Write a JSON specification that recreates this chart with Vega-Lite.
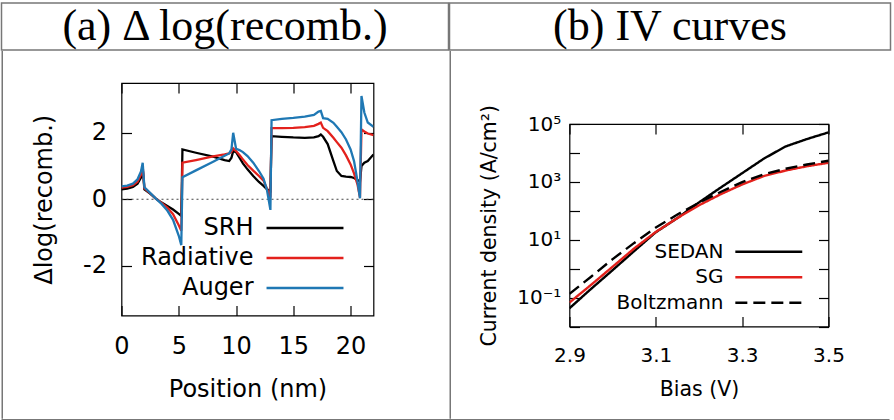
{
  "$schema": "https://vega.github.io/schema/vega-lite/v6.json",
  "padding": {"left": 0.5, "top": 2, "right": 0, "bottom": 0},
  "background": "white",
  "config": {
    "view": {"stroke": null},
    "font": "DejaVu Sans",
    "axis": {"grid": false, "domain": false, "tickColor": "black", "labelColor": "black", "titleColor": "black", "titleFontWeight": "normal", "labelFlush": false, "labelOverlap": false, "tickWidth": 1.2, "labelFont": "DejaVu Sans", "titleFont": "DejaVu Sans"}
  },
  "datasets": {
    "recomb": [
      {"pos": 0, "SRH": 0.30, "Radiative": 0.35, "Auger": 0.39},
      {"pos": 0.5, "SRH": 0.32, "Radiative": 0.37, "Auger": 0.41},
      {"pos": 1.0, "SRH": 0.37, "Radiative": 0.42, "Auger": 0.47},
      {"pos": 1.4, "SRH": 0.47, "Radiative": 0.53, "Auger": 0.60},
      {"pos": 1.7, "SRH": 0.65, "Radiative": 0.74, "Auger": 0.84},
      {"pos": 1.85, "SRH": 0.93, "Radiative": 1.00, "Auger": 1.10},
      {"pos": 2.0, "SRH": 0.30, "Radiative": 0.33, "Auger": 0.36},
      {"pos": 2.5, "SRH": 0.17, "Radiative": 0.18, "Auger": 0.19},
      {"pos": 3.0, "SRH": 0.02, "Radiative": 0.02, "Auger": 0.02},
      {"pos": 3.5, "SRH": -0.10, "Radiative": -0.11, "Auger": -0.14},
      {"pos": 4.0, "SRH": -0.20, "Radiative": -0.25, "Auger": -0.34},
      {"pos": 4.5, "SRH": -0.31, "Radiative": -0.45, "Auger": -0.62},
      {"pos": 5.0, "SRH": -0.44, "Radiative": -0.78, "Auger": -1.10},
      {"pos": 5.22, "SRH": -0.50, "Radiative": -0.95, "Auger": -1.38},
      {"pos": 5.32, "SRH": 1.50, "Radiative": 1.10, "Auger": 0.66},
      {"pos": 6.5, "SRH": 1.40, "Radiative": 1.18, "Auger": 0.87},
      {"pos": 8.0, "SRH": 1.28, "Radiative": 1.29, "Auger": 1.13},
      {"pos": 9.0, "SRH": 1.18, "Radiative": 1.35, "Auger": 1.31},
      {"pos": 9.4, "SRH": 1.15, "Radiative": 1.38, "Auger": 1.38},
      {"pos": 9.6, "SRH": 1.25, "Radiative": 1.43, "Auger": 1.50},
      {"pos": 9.75, "SRH": 1.45, "Radiative": 1.53, "Auger": 2.00},
      {"pos": 10.0, "SRH": 1.42, "Radiative": 1.45, "Auger": 1.52},
      {"pos": 10.3, "SRH": 1.25, "Radiative": 1.33, "Auger": 1.48},
      {"pos": 10.6, "SRH": 1.08, "Radiative": 1.20, "Auger": 1.42},
      {"pos": 11.0, "SRH": 0.90, "Radiative": 1.03, "Auger": 1.30},
      {"pos": 11.5, "SRH": 0.70, "Radiative": 0.86, "Auger": 1.10},
      {"pos": 12.0, "SRH": 0.52, "Radiative": 0.70, "Auger": 0.85},
      {"pos": 12.4, "SRH": 0.40, "Radiative": 0.56, "Auger": 0.62},
      {"pos": 12.7, "SRH": 0.30, "Radiative": 0.32, "Auger": 0.28},
      {"pos": 13.0, "SRH": 0.25, "Radiative": 0.05, "Auger": -0.32},
      {"pos": 13.1, "SRH": 1.90, "Radiative": 2.14, "Auger": 2.38},
      {"pos": 14.0, "SRH": 1.88, "Radiative": 2.14, "Auger": 2.42},
      {"pos": 15.0, "SRH": 1.86, "Radiative": 2.15, "Auger": 2.45},
      {"pos": 16.0, "SRH": 1.85, "Radiative": 2.17, "Auger": 2.49},
      {"pos": 16.8, "SRH": 1.86, "Radiative": 2.21, "Auger": 2.54},
      {"pos": 17.2, "SRH": 1.90, "Radiative": 2.27, "Auger": 2.64},
      {"pos": 17.4, "SRH": 1.95, "Radiative": 2.31, "Auger": 2.66},
      {"pos": 17.6, "SRH": 1.88, "Radiative": 2.15, "Auger": 2.44},
      {"pos": 18.0, "SRH": 1.66, "Radiative": 2.05, "Auger": 2.42},
      {"pos": 18.5, "SRH": 1.15, "Radiative": 1.85, "Auger": 2.30},
      {"pos": 18.8, "SRH": 0.85, "Radiative": 1.72, "Auger": 2.18},
      {"pos": 19.2, "SRH": 0.70, "Radiative": 1.55, "Auger": 2.02},
      {"pos": 19.6, "SRH": 0.68, "Radiative": 1.32, "Auger": 1.80},
      {"pos": 20.0, "SRH": 0.67, "Radiative": 1.05, "Auger": 1.50},
      {"pos": 20.3, "SRH": 0.64, "Radiative": 0.78, "Auger": 1.15},
      {"pos": 20.6, "SRH": 0.58, "Radiative": 0.45, "Auger": 0.55},
      {"pos": 20.82, "SRH": 0.54, "Radiative": 0.05, "Auger": 0.03},
      {"pos": 20.95, "SRH": 1.00, "Radiative": 2.10, "Auger": 3.11},
      {"pos": 21.2, "SRH": 1.10, "Radiative": 2.04, "Auger": 2.61},
      {"pos": 21.5, "SRH": 1.15, "Radiative": 1.98, "Auger": 2.31},
      {"pos": 22.0, "SRH": 1.35, "Radiative": 1.93, "Auger": 2.18}
    ],
    "iv": [
      {"V": 2.90, "SEDAN": 0.0427, "SG": 0.0676, "Boltzmann": 0.135},
      {"V": 2.95, "SEDAN": 0.200, "SG": 0.275, "Boltzmann": 0.525},
      {"V": 3.00, "SEDAN": 0.891, "SG": 1.17, "Boltzmann": 2.14},
      {"V": 3.05, "SEDAN": 4.07, "SG": 5.01, "Boltzmann": 7.76},
      {"V": 3.10, "SEDAN": 18.2, "SG": 18.6, "Boltzmann": 26.3},
      {"V": 3.15, "SEDAN": 56.2, "SG": 56.2, "Boltzmann": 74.1},
      {"V": 3.20, "SEDAN": 195, "SG": 155, "Boltzmann": 191},
      {"V": 3.25, "SEDAN": 631, "SG": 372, "Boltzmann": 447},
      {"V": 3.30, "SEDAN": 1995, "SG": 813, "Boltzmann": 977},
      {"V": 3.35, "SEDAN": 6310, "SG": 1585, "Boltzmann": 1820},
      {"V": 3.40, "SEDAN": 16600, "SG": 2455, "Boltzmann": 2818},
      {"V": 3.45, "SEDAN": 30200, "SG": 3467, "Boltzmann": 3981},
      {"V": 3.50, "SEDAN": 51300, "SG": 4571, "Boltzmann": 5370}
    ]
  },
  "spacing": 0,
  "resolve": {"scale": {"color": "independent", "strokeDash": "independent"}},
  "vconcat": [
    {
      "spacing": -1.5,
      "hconcat": [
        {
          "width": 447, "height": 47,
          "view": {"stroke": "#777", "strokeWidth": 1.5},
          "data": {"values": [{"t": "(a) Δ log(recomb.)"}]},
          "mark": {"type": "text", "font": "Liberation Serif", "fontSize": 44, "baseline": "middle", "align": "center", "color": "black"},
          "encoding": {"text": {"field": "t", "type": "nominal"}}
        },
        {
          "width": 441, "height": 47,
          "view": {"stroke": "#777", "strokeWidth": 1.5},
          "data": {"values": [{"t": "(b) IV curves"}]},
          "mark": {"type": "text", "font": "Liberation Serif", "fontSize": 44, "baseline": "middle", "align": "center", "color": "black"},
          "encoding": {"text": {"field": "t", "type": "nominal"}}
        }
      ]
    },
    {
      "spacing": 0,
      "resolve": {"scale": {"color": "independent", "strokeDash": "independent"}},
      "hconcat": [
        {"width": 1.5, "height": 367.75, "view": {"fill": "#777"}, "data": {"values": []}, "mark": "point", "encoding": {}},
        {"width": 27.25, "height": 1, "data": {"values": []}, "mark": "point", "encoding": {}},
        {
          "spacing": 0,
          "bounds": "flush",
          "vconcat": [
            {"width": 1, "height": 31.5, "data": {"values": []}, "mark": "point", "encoding": {}},
            {
              "width": 252, "height": 232.5,
              "view": {"stroke": "black", "strokeWidth": 1.2},
              "data": {"name": "recomb"},
              "layer": [
                {
                  "data": {"values": [{}]},
                  "mark": {"type": "rule", "strokeDash": [2, 3], "strokeWidth": 1, "color": "#444"},
                  "encoding": {"y": {"datum": 0, "type": "quantitative", "scale": {"domain": [-3.5, 3.5], "nice": false}, "axis": null}}
                },
                {
                  "transform": [{"fold": ["SRH", "Radiative", "Auger"], "as": ["series", "value"]}],
                  "mark": {"type": "line", "strokeWidth": 2.3, "clip": true},
                  "encoding": {
                    "x": {"field": "pos", "type": "quantitative", "scale": {"domain": [0, 22], "nice": false, "zero": false},
                      "axis": {"orient": "bottom", "values": [0, 5, 10, 15, 20], "tickSize": -10, "labelPadding": 29, "labelFontSize": 24, "title": "Position (nm)", "titleFontSize": 24, "titlePadding": 19}},
                    "y": {"field": "value", "type": "quantitative", "scale": {"domain": [-3.5, 3.5], "nice": false},
                      "axis": {"orient": "left", "values": [-2, 0, 2], "tickSize": -10, "labelPadding": 25, "labelFontSize": 24, "labelExpr": "replace(datum.label, '−', '-')", "title": "Δlog(recomb.)", "titleFontSize": 24, "titlePadding": 26}},
                    "color": {"field": "series", "type": "nominal",
                      "scale": {"domain": ["SRH", "Radiative", "Auger"], "range": ["#000000", "#e3211c", "#1f78b4"]},
                      "legend": {"title": null, "orient": "none", "legendX": 171.5, "legendY": 165, "symbolType": "M-4,0H4", "symbolSize": 370, "symbolStrokeWidth": 2.5, "symbolOffset": 0, "labelFontSize": 24, "labelAlign": "right", "labelOffset": -63.5, "rowPadding": 6, "padding": 0, "labelColor": "black", "labelLimit": 0}}
                  }
                },
                {
                  "transform": [{"fold": ["SRH", "Radiative", "Auger"], "as": ["series", "value"]}],
                  "mark": {"type": "line", "opacity": 0},
                  "encoding": {
                    "x": {"field": "pos", "type": "quantitative", "scale": {"domain": [0, 22], "nice": false, "zero": false},
                      "axis": {"orient": "top", "values": [0, 5, 10, 15, 20], "tickSize": -10, "labels": false, "title": null}},
                    "y": {"field": "value", "type": "quantitative", "scale": {"domain": [-3.5, 3.5], "nice": false},
                      "axis": {"orient": "right", "values": [-2, 0, 2], "tickSize": -10, "labels": false, "title": null}},
                    "detail": {"field": "series", "type": "nominal"}
                  }
                }
              ],
              "resolve": {"axis": {"x": "independent", "y": "independent"}}
            }
          ]
        },
        {"width": 73.75, "height": 1, "data": {"values": []}, "mark": "point", "encoding": {}},
        {"width": 1.5, "height": 367.75, "view": {"fill": "#777"}, "data": {"values": []}, "mark": "point", "encoding": {}},
        {"width": 26.95, "height": 1, "data": {"values": []}, "mark": "point", "encoding": {}},
        {
          "spacing": 0,
          "bounds": "flush",
          "vconcat": [
            {"width": 1, "height": 72.8, "data": {"values": []}, "mark": "point", "encoding": {}},
            {
              "width": 259, "height": 202.5,
              "view": {"stroke": "black", "strokeWidth": 1.2},
              "data": {"name": "iv"},
              "transform": [{"fold": ["SEDAN", "SG", "Boltzmann"], "as": ["model", "J"]}],
              "layer": [
                {
                  "mark": {"type": "line", "strokeWidth": 2.4, "clip": true},
                  "encoding": {
                    "x": {"field": "V", "type": "quantitative", "scale": {"domain": [2.9, 3.5], "nice": false, "zero": false},
                      "axis": {"orient": "bottom", "values": [2.9, 3.1, 3.3, 3.5], "format": ".1f", "tickSize": -10, "labelPadding": 29, "labelFontSize": 20, "title": "Bias (V)", "titleFontSize": 20.5, "titlePadding": 14}},
                    "y": {"field": "J", "type": "quantitative", "scale": {"type": "log", "domain": [0.01, 100000], "nice": false},
                      "axis": {"orient": "left", "values": [0.01, 0.1, 1, 10, 100, 1000, 10000, 100000], "tickSize": -10, "labelPadding": 18.7, "labelFontSize": 20,
                        "labelExpr": "datum.value == 100000 ? '10⁵' : datum.value == 1000 ? '10³' : datum.value == 10 ? '10¹' : datum.value == 0.1 ? '10⁻¹' : ''",
                        "title": "Current density (A/cm²)", "titleFontSize": 20.5, "titlePadding": 17}},
                    "color": {"field": "model", "type": "nominal",
                      "scale": {"domain": ["SEDAN", "SG", "Boltzmann"], "range": ["#000000", "#e3211c", "#000000"]},
                      "legend": {"title": null, "orient": "none", "legendX": 189.3, "legendY": 117.7, "symbolType": "M-4,0H4", "symbolSize": 280, "symbolStrokeWidth": 2.5, "symbolOffset": 0, "labelFontSize": 20, "labelAlign": "right", "labelOffset": -55.3, "rowPadding": 5.5, "padding": 0, "labelColor": "black", "labelLimit": 0}},
                    "strokeDash": {"field": "model", "type": "nominal",
                      "scale": {"domain": ["SEDAN", "SG", "Boltzmann"], "range": [[1, 0], [1, 0], [12, 6]]},
                      "legend": {"title": null, "orient": "none", "legendX": 189.3, "legendY": 117.7, "symbolType": "M-4,0H4", "symbolSize": 280, "symbolStrokeWidth": 2.5, "symbolOffset": 0, "labelFontSize": 20, "labelAlign": "right", "labelOffset": -55.3, "rowPadding": 5.5, "padding": 0, "labelColor": "black", "labelLimit": 0}}
                  }
                },
                {
                  "mark": {"type": "line", "opacity": 0},
                  "encoding": {
                    "x": {"field": "V", "type": "quantitative", "scale": {"domain": [2.9, 3.5], "nice": false, "zero": false},
                      "axis": {"orient": "top", "values": [2.9, 3.1, 3.3, 3.5], "tickSize": -10, "labels": false, "title": null}},
                    "y": {"field": "J", "type": "quantitative", "scale": {"type": "log", "domain": [0.01, 100000], "nice": false},
                      "axis": {"orient": "right", "values": [0.01, 0.1, 1, 10, 100, 1000, 10000, 100000], "tickSize": -10, "labels": false, "title": null}},
                    "detail": {"field": "model", "type": "nominal"}
                  }
                }
              ],
              "resolve": {"axis": {"x": "independent", "y": "independent"}}
            }
          ],
          "resolve": {"scale": {"color": "independent", "strokeDash": "independent"}}
        },
        {"width": 60, "height": 1, "data": {"values": []}, "mark": "point", "encoding": {}},
        {"width": 1.5, "height": 367.75, "view": {"fill": "#777"}, "data": {"values": []}, "mark": "point", "encoding": {}}
      ]
    },
    {"width": 888, "height": 1.5, "view": {"fill": "#777"}, "data": {"values": []}, "mark": "point", "encoding": {}}
  ]
}
